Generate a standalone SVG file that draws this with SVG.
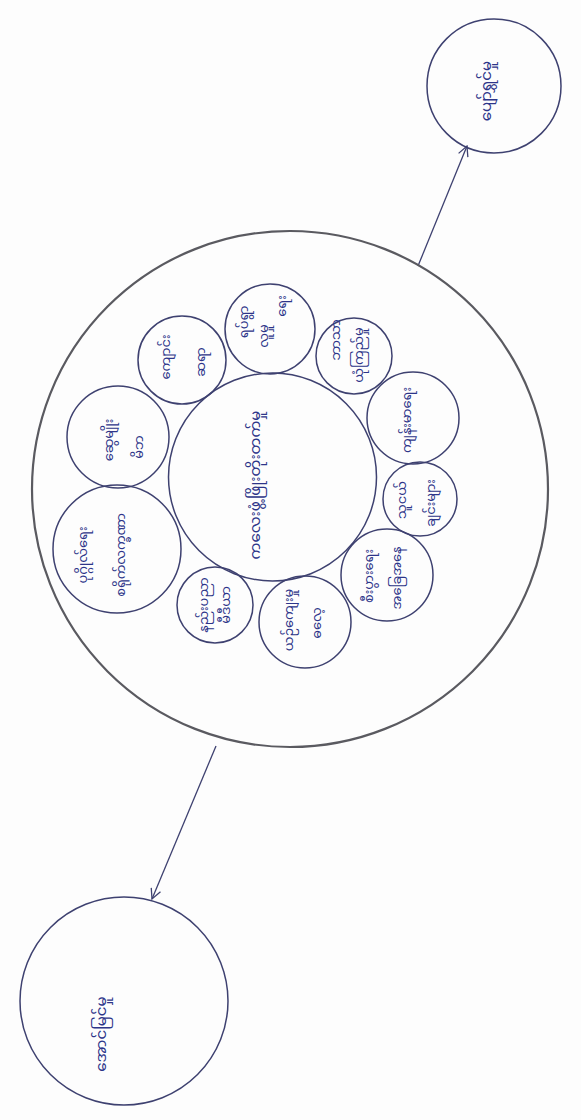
<svg xmlns="http://www.w3.org/2000/svg" width="581" height="1120" viewBox="0 0 581 1120">
<style>
.bg{fill:#fdfdfd}
.outer{fill:none;stroke:#5a5a60;stroke-width:2.2}
.c{fill:none;stroke:#3e4170;stroke-width:1.5}
.t{font-family:'Noto Sans Myanmar','Padauk','Myanmar Text','Noto Sans',sans-serif;font-size:13px;fill:#2d3589;text-anchor:middle;dominant-baseline:central}
.big{font-size:15px}
.edge{fill:none;stroke:#3e4170;stroke-width:1.3}
</style>
<defs>
<marker id="arr" viewBox="0 0 12 12" refX="11" refY="6" markerWidth="12" markerHeight="12" markerUnits="userSpaceOnUse" orient="auto">
<path d="M1,1 L11,6 L1,11" fill="none" stroke="#3e4170" stroke-width="1.3"/>
</marker>
</defs>
<rect class="bg" x="0" y="0" width="581" height="1120"/>
<g id="connectors">
<line class="edge" x1="418" y1="266" x2="467" y2="146" marker-end="url(#arr)"/>
<line class="edge" x1="216" y1="746" x2="152" y2="899" marker-end="url(#arr)"/>
</g>
<g id="environment"><circle class="outer" cx="290" cy="489" r="258"/></g>
<g id="center"><circle class="c" cx="272.5" cy="477" r="104"/>
<text class="t big" transform="translate(256,485) rotate(-90)">ကလေးဖွံ့ဖြိုးတိုးတက်မှု</text></g>
<g id="out-top"><circle class="c" cx="494" cy="86" r="67"/>
<text class="t big" transform="translate(487,91) rotate(-90)">ပျော်ရွှင်မှု</text></g>
<g id="out-bottom"><circle class="c" cx="124" cy="1001" r="104"/>
<text class="t big" transform="translate(102,1034) rotate(-90)">အောင်မြင်မှု</text></g>
<g id="f1"><circle class="c" cx="117" cy="549" r="64"/>
<text class="t" transform="translate(84,555) rotate(-90)">ပုဂ္ဂိုလ်ရေး</text>
<text class="t" transform="translate(122,555) rotate(-90)">စရိုက်လက္ခဏာ</text></g>
<g id="f2"><circle class="c" cx="118" cy="437" r="51"/>
<text class="t" transform="translate(110,440) rotate(-90)">ဆွေမျိုး</text>
<text class="t" transform="translate(140,447) rotate(-90)">မိဘ</text></g>
<g id="f3"><circle class="c" cx="182" cy="360" r="44"/>
<text class="t" transform="translate(167,357) rotate(-90)">ကျောင်း</text>
<text class="t" transform="translate(202,362) rotate(-90)">ဆရာ</text></g>
<g id="f4"><circle class="c" cx="270" cy="329" r="45"/>
<text class="t" transform="translate(245,322) rotate(-90)">ရပ်ရွာ</text>
<text class="t" transform="translate(265,336) rotate(-90)">လူမှု</text>
<text class="t" transform="translate(283,306) rotate(-90)">ရေး</text></g>
<g id="f5"><circle class="c" cx="354" cy="356" r="38"/>
<text class="t" transform="translate(337,340) rotate(-90)">ဘာသာ</text>
<text class="t" transform="translate(360,355) rotate(-90)">ယုံကြည်မှု</text></g>
<g id="f6"><circle class="c" cx="413" cy="418" r="46"/>
<text class="t" transform="translate(408,420) rotate(-90)">ကျန်းမာရေး</text></g>
<g id="f7"><circle class="c" cx="420" cy="499" r="37"/>
<text class="t" transform="translate(403,500) rotate(-90)">သူငယ်</text>
<text class="t" transform="translate(432,503) rotate(-90)">ချင်းများ</text></g>
<g id="f8"><circle class="c" cx="387" cy="575" r="46"/>
<text class="t" transform="translate(370,576) rotate(-90)">စီးပွားရေး</text>
<text class="t" transform="translate(398,578) rotate(-90)">အခြေအနေ</text></g>
<g id="f9"><circle class="c" cx="305" cy="622" r="46"/>
<text class="t" transform="translate(290,620) rotate(-90)">ယဉ်ကျေးမှု</text>
<text class="t" transform="translate(318,623) rotate(-90)">ဓလေ့</text></g>
<g id="f10"><circle class="c" cx="215" cy="605" r="38"/>
<text class="t" transform="translate(205,605) rotate(-90)">နည်းပညာ</text>
<text class="t" transform="translate(227,605) rotate(-90)">မီဒီယာ</text></g>
</svg>
